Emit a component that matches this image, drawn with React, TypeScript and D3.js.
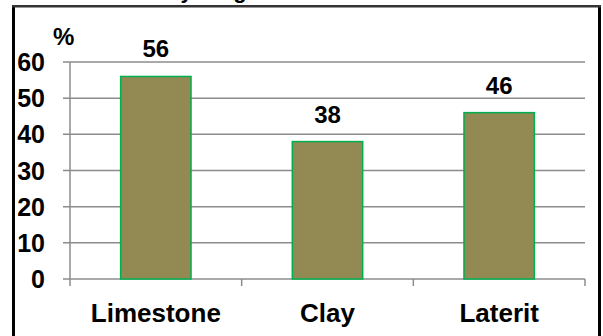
import * as d3 from 'd3';
import React from 'react';

const categories = ['Limestone', 'Clay', 'Laterit'];
const values = [56, 38, 46];
const yTicks = [0, 10, 20, 30, 40, 50, 60];

const W = 603;
const H = 336;
const font = '"Liberation Sans", Arial, sans-serif';

const App = () => {
  const x = d3.scaleBand().domain(categories).range([70, 585]).padding(0);
  const y = d3.scaleLinear().domain([0, 60]).range([279, 62]);
  const barW = x.bandwidth() * 0.41;
  const bounds = [...categories.map((c) => x(c) as number), 585];

  return (
    <div style={{ position: 'fixed', left: 0, top: 0, width: W, height: H, background: '#fff' }}>
      <svg width={W} height={H} style={{ display: 'block' }}>
        <text x={62} y={-2} fontFamily={font} fontWeight="bold" fontSize={22}>
          Permeability range
        </text>
        {/* outer frame, bottom edge lies outside the picture */}
        <rect x={12} y={5} width={3} height={H - 5} fill="#000" />
        <rect x={598} y={5} width={3} height={H - 5} fill="#000" />
        <rect x={12} y={5} width={589} height={2.5} fill="#333" />

        {yTicks.map((t) => (
          <g key={t}>
            <line x1={63} x2={585} y1={y(t)} y2={y(t)} stroke="#8c8c8c" strokeWidth={1.5} />
            <text
              x={45}
              y={y(t)}
              dy="0.36em"
              textAnchor="end"
              fontFamily={font}
              fontWeight="bold"
              fontSize={25}
            >
              {t}
            </text>
          </g>
        ))}
        <line x1={70} x2={70} y1={y(60)} y2={y(0) + 7} stroke="#8c8c8c" strokeWidth={1.5} />
        {bounds.slice(1).map((b, i) => (
          <line key={i} x1={b} x2={b} y1={y(0)} y2={y(0) + 7} stroke="#8c8c8c" strokeWidth={1.5} />
        ))}

        {categories.map((c, i) => {
          const cx = (x(c) as number) + x.bandwidth() / 2;
          return (
            <g key={c}>
              <rect
                x={cx - barW / 2}
                y={y(values[i])}
                width={barW}
                height={y(0) - y(values[i])}
                fill="#938953"
                stroke="#00b050"
                strokeWidth={1.5}
              />
              <text
                x={cx}
                y={y(values[i]) - 19}
                textAnchor="middle"
                fontFamily={font}
                fontWeight="bold"
                fontSize={24}
              >
                {values[i]}
              </text>
              <text
                x={cx}
                y={322}
                textAnchor="middle"
                fontFamily={font}
                fontWeight="bold"
                fontSize={26}
              >
                {c}
              </text>
            </g>
          );
        })}
        <text x={53} y={45} fontFamily={font} fontWeight="bold" fontSize={24}>
          %
        </text>
      </svg>
    </div>
  );
};

export default App;
